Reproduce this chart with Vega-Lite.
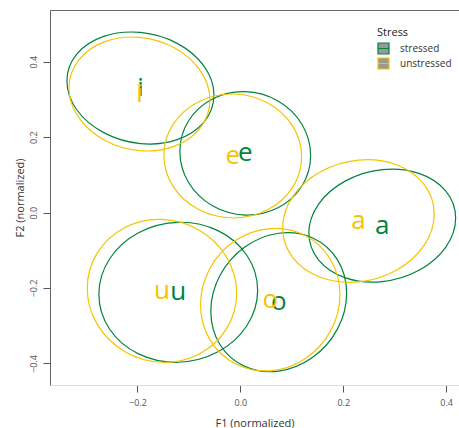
{
 "$schema": "https://vega.github.io/schema/vega-lite/v6.json",
 "width": 409,
 "height": 375,
 "autosize": {"type": "none"},
 "padding": {"left": 50, "top": 10, "right": 0, "bottom": 43},
 "config": {
  "view": {"stroke": null},
  "font": "Open Sans",
  "axis": {"grid": false, "labelFont": "Open Sans", "labelFontSize": 9, "labelColor": "#555", "titleFont": "Open Sans", "titleFontSize": 11, "titleFontWeight": "normal", "titleColor": "#333", "tickColor": "#555", "tickSize": 7, "domainColor": "#666"}
 },
 "datasets": {
  "ell": [
   {"vowel":"i","stress":"stressed","k":0,"F1":-0.0513,"F2":0.3116},
   {"vowel":"i","stress":"stressed","k":1,"F1":-0.0704,"F2":0.3878},
   {"vowel":"i","stress":"stressed","k":2,"F1":-0.1228,"F2":0.4485},
   {"vowel":"i","stress":"stressed","k":3,"F1":-0.1942,"F2":0.4775},
   {"vowel":"i","stress":"stressed","k":4,"F1":-0.2656,"F2":0.4671},
   {"vowel":"i","stress":"stressed","k":5,"F1":-0.3180,"F2":0.4200},
   {"vowel":"i","stress":"stressed","k":6,"F1":-0.3371,"F2":0.3488},
   {"vowel":"i","stress":"stressed","k":7,"F1":-0.3180,"F2":0.2726},
   {"vowel":"i","stress":"stressed","k":8,"F1":-0.2656,"F2":0.2119},
   {"vowel":"i","stress":"stressed","k":9,"F1":-0.1942,"F2":0.1829},
   {"vowel":"i","stress":"stressed","k":10,"F1":-0.1228,"F2":0.1933},
   {"vowel":"i","stress":"stressed","k":11,"F1":-0.0704,"F2":0.2404},
   {"vowel":"e","stress":"stressed","k":0,"F1":0.1366,"F2":0.1516},
   {"vowel":"e","stress":"stressed","k":1,"F1":0.1196,"F2":0.2341},
   {"vowel":"e","stress":"stressed","k":2,"F1":0.0731,"F2":0.2958},
   {"vowel":"e","stress":"stressed","k":3,"F1":0.0095,"F2":0.3204},
   {"vowel":"e","stress":"stressed","k":4,"F1":-0.0541,"F2":0.3012},
   {"vowel":"e","stress":"stressed","k":5,"F1":-0.1006,"F2":0.2433},
   {"vowel":"e","stress":"stressed","k":6,"F1":-0.1176,"F2":0.1622},
   {"vowel":"e","stress":"stressed","k":7,"F1":-0.1006,"F2":0.0797},
   {"vowel":"e","stress":"stressed","k":8,"F1":-0.0541,"F2":0.0180},
   {"vowel":"e","stress":"stressed","k":9,"F1":0.0095,"F2":-0.0066},
   {"vowel":"e","stress":"stressed","k":10,"F1":0.0731,"F2":0.0126},
   {"vowel":"e","stress":"stressed","k":11,"F1":0.1196,"F2":0.0705},
   {"vowel":"a","stress":"stressed","k":0,"F1":0.4185,"F2":-0.0146},
   {"vowel":"a","stress":"stressed","k":1,"F1":0.3994,"F2":0.0569},
   {"vowel":"a","stress":"stressed","k":2,"F1":0.3472,"F2":0.1040},
   {"vowel":"a","stress":"stressed","k":3,"F1":0.2758,"F2":0.1139},
   {"vowel":"a","stress":"stressed","k":4,"F1":0.2044,"F2":0.0840},
   {"vowel":"a","stress":"stressed","k":5,"F1":0.1522,"F2":0.0225},
   {"vowel":"a","stress":"stressed","k":6,"F1":0.1331,"F2":-0.0544},
   {"vowel":"a","stress":"stressed","k":7,"F1":0.1522,"F2":-0.1259},
   {"vowel":"a","stress":"stressed","k":8,"F1":0.2044,"F2":-0.1730},
   {"vowel":"a","stress":"stressed","k":9,"F1":0.2758,"F2":-0.1829},
   {"vowel":"a","stress":"stressed","k":10,"F1":0.3472,"F2":-0.1530},
   {"vowel":"a","stress":"stressed","k":11,"F1":0.3994,"F2":-0.0915},
   {"vowel":"u","stress":"stressed","k":0,"F1":0.0336,"F2":-0.2059},
   {"vowel":"u","stress":"stressed","k":1,"F1":0.0129,"F2":-0.1138},
   {"vowel":"u","stress":"stressed","k":2,"F1":-0.0435,"F2":-0.0479},
   {"vowel":"u","stress":"stressed","k":3,"F1":-0.1207,"F2":-0.0257},
   {"vowel":"u","stress":"stressed","k":4,"F1":-0.1979,"F2":-0.0533},
   {"vowel":"u","stress":"stressed","k":5,"F1":-0.2543,"F2":-0.1230},
   {"vowel":"u","stress":"stressed","k":6,"F1":-0.2750,"F2":-0.2165},
   {"vowel":"u","stress":"stressed","k":7,"F1":-0.2543,"F2":-0.3086},
   {"vowel":"u","stress":"stressed","k":8,"F1":-0.1979,"F2":-0.3745},
   {"vowel":"u","stress":"stressed","k":9,"F1":-0.1207,"F2":-0.3967},
   {"vowel":"u","stress":"stressed","k":10,"F1":-0.0435,"F2":-0.3691},
   {"vowel":"u","stress":"stressed","k":11,"F1":0.0129,"F2":-0.2994},
   {"vowel":"o","stress":"stressed","k":0,"F1":0.2066,"F2":-0.2136},
   {"vowel":"o","stress":"stressed","k":1,"F1":0.1889,"F2":-0.1254},
   {"vowel":"o","stress":"stressed","k":2,"F1":0.1406,"F2":-0.0673},
   {"vowel":"o","stress":"stressed","k":3,"F1":0.0746,"F2":-0.0548},
   {"vowel":"o","stress":"stressed","k":4,"F1":0.0086,"F2":-0.0913},
   {"vowel":"o","stress":"stressed","k":5,"F1":-0.0397,"F2":-0.1668},
   {"vowel":"o","stress":"stressed","k":6,"F1":-0.0574,"F2":-0.2614},
   {"vowel":"o","stress":"stressed","k":7,"F1":-0.0397,"F2":-0.3496},
   {"vowel":"o","stress":"stressed","k":8,"F1":0.0086,"F2":-0.4077},
   {"vowel":"o","stress":"stressed","k":9,"F1":0.0746,"F2":-0.4202},
   {"vowel":"o","stress":"stressed","k":10,"F1":0.1406,"F2":-0.3837},
   {"vowel":"o","stress":"stressed","k":11,"F1":0.1889,"F2":-0.3082},
   {"vowel":"i","stress":"unstressed","k":0,"F1":-0.0591,"F2":0.2984},
   {"vowel":"i","stress":"unstressed","k":1,"F1":-0.0775,"F2":0.3756},
   {"vowel":"i","stress":"unstressed","k":2,"F1":-0.1276,"F2":0.4364},
   {"vowel":"i","stress":"unstressed","k":3,"F1":-0.1961,"F2":0.4645},
   {"vowel":"i","stress":"unstressed","k":4,"F1":-0.2646,"F2":0.4524},
   {"vowel":"i","stress":"unstressed","k":5,"F1":-0.3147,"F2":0.4032},
   {"vowel":"i","stress":"unstressed","k":6,"F1":-0.3331,"F2":0.3302},
   {"vowel":"i","stress":"unstressed","k":7,"F1":-0.3147,"F2":0.2530},
   {"vowel":"i","stress":"unstressed","k":8,"F1":-0.2646,"F2":0.1922},
   {"vowel":"i","stress":"unstressed","k":9,"F1":-0.1961,"F2":0.1641},
   {"vowel":"i","stress":"unstressed","k":10,"F1":-0.1276,"F2":0.1762},
   {"vowel":"i","stress":"unstressed","k":11,"F1":-0.0775,"F2":0.2254},
   {"vowel":"e","stress":"unstressed","k":0,"F1":0.1191,"F2":0.1481},
   {"vowel":"e","stress":"unstressed","k":1,"F1":0.1012,"F2":0.2306},
   {"vowel":"e","stress":"unstressed","k":2,"F1":0.0522,"F2":0.2913},
   {"vowel":"e","stress":"unstressed","k":3,"F1":-0.0148,"F2":0.3143},
   {"vowel":"e","stress":"unstressed","k":4,"F1":-0.0818,"F2":0.2933},
   {"vowel":"e","stress":"unstressed","k":5,"F1":-0.1308,"F2":0.2338},
   {"vowel":"e","stress":"unstressed","k":6,"F1":-0.1487,"F2":0.1519},
   {"vowel":"e","stress":"unstressed","k":7,"F1":-0.1308,"F2":0.0694},
   {"vowel":"e","stress":"unstressed","k":8,"F1":-0.0818,"F2":0.0087},
   {"vowel":"e","stress":"unstressed","k":9,"F1":-0.0148,"F2":-0.0143},
   {"vowel":"e","stress":"unstressed","k":10,"F1":0.0522,"F2":0.0067},
   {"vowel":"e","stress":"unstressed","k":11,"F1":0.1012,"F2":0.0662},
   {"vowel":"a","stress":"unstressed","k":0,"F1":0.3768,"F2":-0.0037},
   {"vowel":"a","stress":"unstressed","k":1,"F1":0.3571,"F2":0.0745},
   {"vowel":"a","stress":"unstressed","k":2,"F1":0.3032,"F2":0.1268},
   {"vowel":"a","stress":"unstressed","k":3,"F1":0.2295,"F2":0.1391},
   {"vowel":"a","stress":"unstressed","k":4,"F1":0.1558,"F2":0.1082},
   {"vowel":"a","stress":"unstressed","k":5,"F1":0.1019,"F2":0.0423},
   {"vowel":"a","stress":"unstressed","k":6,"F1":0.0822,"F2":-0.0409},
   {"vowel":"a","stress":"unstressed","k":7,"F1":0.1019,"F2":-0.1191},
   {"vowel":"a","stress":"unstressed","k":8,"F1":0.1558,"F2":-0.1714},
   {"vowel":"a","stress":"unstressed","k":9,"F1":0.2295,"F2":-0.1837},
   {"vowel":"a","stress":"unstressed","k":10,"F1":0.3032,"F2":-0.1528},
   {"vowel":"a","stress":"unstressed","k":11,"F1":0.3571,"F2":-0.0869},
   {"vowel":"u","stress":"unstressed","k":0,"F1":-0.0072,"F2":-0.2139},
   {"vowel":"u","stress":"unstressed","k":1,"F1":-0.0267,"F2":-0.1183},
   {"vowel":"u","stress":"unstressed","k":2,"F1":-0.0798,"F2":-0.0466},
   {"vowel":"u","stress":"unstressed","k":3,"F1":-0.1524,"F2":-0.0179},
   {"vowel":"u","stress":"unstressed","k":4,"F1":-0.2250,"F2":-0.0400},
   {"vowel":"u","stress":"unstressed","k":5,"F1":-0.2781,"F2":-0.1069},
   {"vowel":"u","stress":"unstressed","k":6,"F1":-0.2976,"F2":-0.2007},
   {"vowel":"u","stress":"unstressed","k":7,"F1":-0.2781,"F2":-0.2963},
   {"vowel":"u","stress":"unstressed","k":8,"F1":-0.2250,"F2":-0.3680},
   {"vowel":"u","stress":"unstressed","k":9,"F1":-0.1524,"F2":-0.3967},
   {"vowel":"u","stress":"unstressed","k":10,"F1":-0.0798,"F2":-0.3746},
   {"vowel":"u","stress":"unstressed","k":11,"F1":-0.0267,"F2":-0.3077},
   {"vowel":"o","stress":"unstressed","k":0,"F1":0.1936,"F2":-0.2175},
   {"vowel":"o","stress":"unstressed","k":1,"F1":0.1754,"F2":-0.1250},
   {"vowel":"o","stress":"unstressed","k":2,"F1":0.1259,"F2":-0.0609},
   {"vowel":"o","stress":"unstressed","k":3,"F1":0.0581,"F2":-0.0423},
   {"vowel":"o","stress":"unstressed","k":4,"F1":-0.0097,"F2":-0.0743},
   {"vowel":"o","stress":"unstressed","k":5,"F1":-0.0592,"F2":-0.1480},
   {"vowel":"o","stress":"unstressed","k":6,"F1":-0.0774,"F2":-0.2441},
   {"vowel":"o","stress":"unstressed","k":7,"F1":-0.0592,"F2":-0.3366},
   {"vowel":"o","stress":"unstressed","k":8,"F1":-0.0097,"F2":-0.4007},
   {"vowel":"o","stress":"unstressed","k":9,"F1":0.0581,"F2":-0.4193},
   {"vowel":"o","stress":"unstressed","k":10,"F1":0.1259,"F2":-0.3873},
   {"vowel":"o","stress":"unstressed","k":11,"F1":0.1754,"F2":-0.3136}
  ],
  "means": [
   {"vowel":"i","stress":"stressed","F1":-0.1942,"F2":0.3302},
   {"vowel":"e","stress":"stressed","F1":0.0095,"F2":0.1569},
   {"vowel":"a","stress":"stressed","F1":0.2758,"F2":-0.0345},
   {"vowel":"u","stress":"stressed","F1":-0.1207,"F2":-0.2112},
   {"vowel":"o","stress":"stressed","F1":0.0746,"F2":-0.2375},
   {"vowel":"i","stress":"unstressed","F1":-0.1961,"F2":0.3143},
   {"vowel":"e","stress":"unstressed","F1":-0.0148,"F2":0.1500},
   {"vowel":"a","stress":"unstressed","F1":0.2295,"F2":-0.0223},
   {"vowel":"u","stress":"unstressed","F1":-0.1524,"F2":-0.2073},
   {"vowel":"o","stress":"unstressed","F1":0.0581,"F2":-0.2308}
  ]
 },
 "layer": [
  {
   "data": {"name": "ell"},
   "mark": {"type": "line", "interpolate": "cardinal-closed", "strokeWidth": 1.2},
   "encoding": {
    "x": {"field": "F1", "type": "quantitative", "scale": {"domain": [-0.370, 0.425], "nice": false, "zero": false},
          "axis": {"title": "F1 (normalized)", "values": [-0.2, 0, 0.2, 0.4], "format": ".1f", "domainColor": "#dddddd", "labelPadding": 6, "titlePadding": 10}},
    "y": {"field": "F2", "type": "quantitative", "scale": {"domain": [-0.457, 0.537], "nice": false, "zero": false},
          "axis": {"title": "F2 (normalized)", "values": [-0.4, -0.2, 0, 0.2, 0.4], "format": ".1f", "labelAngle": 270, "labelAlign": "center", "labelBaseline": "alphabetic", "labelPadding": 7, "titlePadding": 4}},
    "stroke": {"field": "stress", "type": "nominal",
              "scale": {"domain": ["stressed", "unstressed"], "range": ["#00843d", "#f5c400"]},
              "legend": {"title": "Stress", "orient": "none", "legendX": 327, "legendY": 17, "titleFont": "Open Sans", "titleFontSize": 11, "titleFontWeight": "normal", "titleColor": "#222", "titlePadding": 4, "labelFont": "Open Sans", "labelFontSize": 10, "labelColor": "#333", "labelOffset": 10, "symbolType": "M-1,-1H1V1H-1ZM-1,0H1", "symbolSize": 121, "symbolStrokeWidth": 1.2, "symbolFillColor": "#999999", "rowPadding": -2}},
    "detail": {"field": "vowel", "type": "nominal"},
    "order": {"field": "k", "type": "quantitative"}
   }
  },
  {
   "data": {"name": "means"},
   "mark": {"type": "text", "font": "Open Sans", "fontSize": 26, "align": "center", "baseline": "middle"},
   "encoding": {
    "x": {"field": "F1", "type": "quantitative",
          "axis": {"orient": "top", "title": null, "labels": false, "ticks": false, "domainColor": "#666666"}},
    "y": {"field": "F2", "type": "quantitative",
          "axis": {"title": "F2 (normalized)", "values": [-0.4, -0.2, 0, 0.2, 0.4], "format": ".1f", "labelAngle": 270, "labelAlign": "center", "labelBaseline": "alphabetic", "labelPadding": 7, "titlePadding": 4}},
    "text": {"field": "vowel", "type": "nominal"},
    "color": {"condition": {"test": "datum.stress === 'stressed'", "value": "#00843d"}, "value": "#f5c400"}
   }
  }
 ],
 "resolve": {"axis": {"x": "independent"}}
}
